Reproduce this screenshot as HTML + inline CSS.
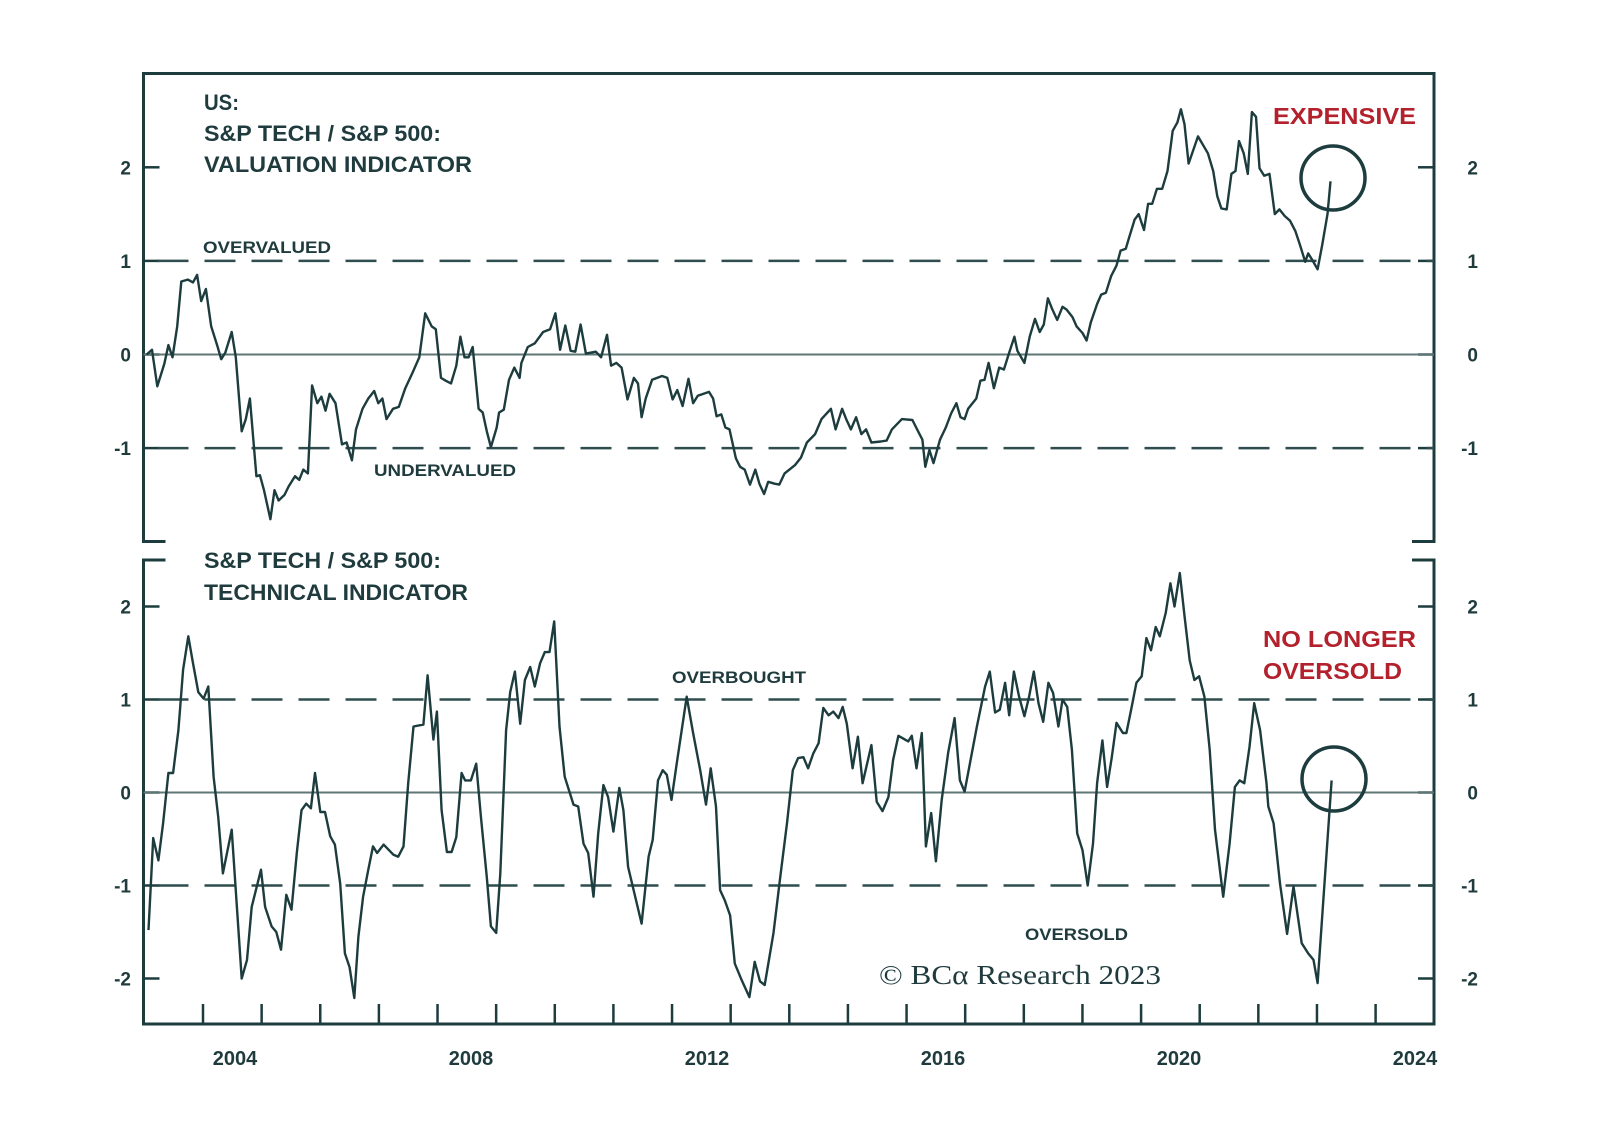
<!DOCTYPE html>
<html><head><meta charset="utf-8"><style>
html,body{margin:0;padding:0;background:#fff;}
svg{display:block;}
text{font-family:"Liberation Sans",sans-serif;fill:#1f3b3d;}
</style></head><body>
<svg id="chart" width="1600" height="1142" viewBox="0 0 1600 1142" xmlns="http://www.w3.org/2000/svg">
<g id="frame"></g>
<g id="grid"></g>
<g id="series"></g>
<g id="labels">
<text x="204" y="110" font-size="22" font-weight="bold" textLength="35" lengthAdjust="spacingAndGlyphs">US:</text>
<text x="204" y="141" font-size="22" font-weight="bold" textLength="237" lengthAdjust="spacingAndGlyphs">S&amp;P TECH / S&amp;P 500:</text>
<text x="204" y="172" font-size="22" font-weight="bold" textLength="268" lengthAdjust="spacingAndGlyphs">VALUATION INDICATOR</text>
<text x="203" y="253" font-size="17" font-weight="bold" textLength="128" lengthAdjust="spacingAndGlyphs">OVERVALUED</text>
<text x="374" y="476" font-size="17" font-weight="bold" textLength="142" lengthAdjust="spacingAndGlyphs">UNDERVALUED</text>
<text x="1273" y="124" font-size="23" font-weight="bold" style="fill:#b3222c" textLength="143" lengthAdjust="spacingAndGlyphs">EXPENSIVE</text>
<text x="204" y="568" font-size="22" font-weight="bold" textLength="237" lengthAdjust="spacingAndGlyphs">S&amp;P TECH / S&amp;P 500:</text>
<text x="204" y="600" font-size="22" font-weight="bold" textLength="264" lengthAdjust="spacingAndGlyphs">TECHNICAL INDICATOR</text>
<text x="672" y="683" font-size="17" font-weight="bold" textLength="134" lengthAdjust="spacingAndGlyphs">OVERBOUGHT</text>
<text x="1025" y="940" font-size="17" font-weight="bold" textLength="103" lengthAdjust="spacingAndGlyphs">OVERSOLD</text>
<text x="1263" y="647" font-size="23" font-weight="bold" style="fill:#b3222c" textLength="153" lengthAdjust="spacingAndGlyphs">NO LONGER</text>
<text x="1263" y="679" font-size="23" font-weight="bold" style="fill:#b3222c" textLength="139" lengthAdjust="spacingAndGlyphs">OVERSOLD</text>
<text x="879" y="984" font-size="27" style="font-family:'Liberation Serif',serif" textLength="282" lengthAdjust="spacingAndGlyphs">© BCα Research 2023</text>
</g>
<circle cx="1333" cy="178" r="32" fill="none" stroke="#1d3c3e" stroke-width="3.5"/>
<circle cx="1334" cy="779" r="32" fill="none" stroke="#1d3c3e" stroke-width="3.5"/>
</svg>
<script>
// ---- data ----
const valDates = [2003.04,2003.13,2003.22,2003.34,2003.41,2003.48,2003.56,2003.63,2003.74,2003.83,2003.90,2003.97,2004.05,2004.14,2004.24,2004.31,2004.38,2004.49,2004.56,2004.66,2004.73,2004.80,2004.91,2004.97,2005.04,2005.15,2005.22,2005.29,2005.39,2005.46,2005.57,2005.64,2005.71,2005.79,2005.86,2005.95,2006.02,2006.09,2006.16,2006.26,2006.37,2006.45,2006.54,2006.61,2006.72,2006.82,2006.92,2006.99,2007.06,2007.13,2007.24,2007.34,2007.45,2007.57,2007.69,2007.79,2007.90,2007.97,2008.06,2008.14,2008.23,2008.32,2008.39,2008.46,2008.53,2008.60,2008.70,2008.77,2008.84,2008.91,2009.01,2009.05,2009.13,2009.22,2009.31,2009.40,2009.43,2009.54,2009.66,2009.80,2009.92,2010.01,2010.09,2010.18,2010.27,2010.35,2010.44,2010.53,2010.70,2010.79,2010.89,2010.96,2011.05,2011.14,2011.24,2011.35,2011.42,2011.48,2011.55,2011.66,2011.83,2011.92,2012.01,2012.09,2012.18,2012.28,2012.36,2012.44,2012.63,2012.70,2012.76,2012.84,2012.91,2012.98,2013.09,2013.16,2013.24,2013.33,2013.42,2013.49,2013.57,2013.64,2013.75,2013.83,2013.92,2014.10,2014.20,2014.30,2014.44,2014.55,2014.71,2014.79,2014.90,2014.97,2015.05,2015.14,2015.23,2015.31,2015.40,2015.56,2015.66,2015.75,2015.92,2016.10,2016.18,2016.27,2016.32,2016.39,2016.46,2016.57,2016.67,2016.76,2016.85,2016.92,2016.99,2017.05,2017.19,2017.26,2017.33,2017.40,2017.49,2017.58,2017.66,2017.75,2017.84,2017.89,2018.01,2018.10,2018.19,2018.27,2018.34,2018.41,2018.48,2018.57,2018.66,2018.73,2018.83,2018.90,2019.00,2019.07,2019.14,2019.25,2019.32,2019.40,2019.49,2019.58,2019.65,2019.74,2019.80,2019.89,2019.96,2020.05,2020.12,2020.19,2020.27,2020.36,2020.45,2020.54,2020.62,2020.68,2020.74,2020.81,2020.97,2021.14,2021.23,2021.30,2021.37,2021.46,2021.54,2021.61,2021.67,2021.75,2021.82,2021.89,2021.96,2022.02,2022.10,2022.19,2022.28,2022.36,2022.45,2022.54,2022.63,2022.71,2022.80,2022.85,2022.92,2023.01,2023.09,2023.18,2023.23];
const valValues = [0.00,0.05,-0.34,-0.10,0.10,-0.03,0.30,0.78,0.80,0.77,0.85,0.57,0.70,0.30,0.10,-0.05,0.02,0.24,-0.03,-0.82,-0.69,-0.47,-1.30,-1.29,-1.45,-1.76,-1.45,-1.56,-1.50,-1.41,-1.30,-1.34,-1.23,-1.27,-0.33,-0.52,-0.45,-0.60,-0.42,-0.52,-0.96,-0.94,-1.13,-0.80,-0.58,-0.47,-0.39,-0.52,-0.47,-0.69,-0.58,-0.56,-0.36,-0.20,-0.03,0.44,0.30,0.27,-0.25,-0.28,-0.31,-0.12,0.19,-0.03,-0.03,0.08,-0.58,-0.62,-0.82,-0.99,-0.78,-0.62,-0.59,-0.27,-0.14,-0.25,-0.09,0.08,0.12,0.24,0.27,0.44,0.05,0.31,0.04,0.03,0.32,0.01,0.03,-0.03,0.21,-0.12,-0.09,-0.14,-0.48,-0.25,-0.31,-0.67,-0.47,-0.27,-0.23,-0.25,-0.48,-0.38,-0.55,-0.26,-0.52,-0.44,-0.40,-0.47,-0.66,-0.64,-0.78,-0.80,-1.11,-1.20,-1.23,-1.39,-1.23,-1.38,-1.49,-1.36,-1.38,-1.39,-1.27,-1.18,-1.10,-0.94,-0.85,-0.69,-0.58,-0.80,-0.58,-0.69,-0.80,-0.67,-0.85,-0.80,-0.94,-0.93,-0.92,-0.80,-0.69,-0.70,-0.80,-0.91,-1.20,-1.02,-1.16,-0.91,-0.78,-0.63,-0.52,-0.67,-0.69,-0.58,-0.47,-0.28,-0.27,-0.09,-0.36,-0.14,-0.16,0.02,0.19,0.04,-0.09,0.19,0.38,0.24,0.32,0.60,0.49,0.37,0.51,0.48,0.40,0.30,0.23,0.15,0.34,0.54,0.64,0.66,0.84,0.95,1.11,1.13,1.26,1.44,1.50,1.33,1.61,1.61,1.77,1.77,1.96,2.39,2.48,2.62,2.46,2.04,2.33,2.15,1.96,1.69,1.56,1.55,1.93,1.96,2.28,2.15,1.93,2.59,2.54,1.99,1.91,1.93,1.50,1.55,1.48,1.43,1.32,1.17,0.99,1.08,1.01,0.91,1.17,1.50,1.85];
const techDates = [2003.07,2003.15,2003.24,2003.32,2003.41,2003.49,2003.58,2003.66,2003.75,2003.83,2003.92,2004.01,2004.09,2004.18,2004.26,2004.34,2004.49,2004.66,2004.75,2004.83,2004.99,2005.06,2005.17,2005.25,2005.33,2005.42,2005.51,2005.60,2005.68,2005.76,2005.84,2005.91,2006.00,2006.08,2006.17,2006.25,2006.34,2006.42,2006.50,2006.58,2006.65,2006.73,2006.82,2006.90,2006.97,2007.08,2007.25,2007.33,2007.42,2007.50,2007.59,2007.76,2007.83,2007.93,2007.99,2008.07,2008.16,2008.24,2008.32,2008.41,2008.47,2008.57,2008.66,2008.74,2008.84,2008.91,2009.00,2009.07,2009.17,2009.24,2009.32,2009.41,2009.49,2009.58,2009.66,2009.75,2009.83,2009.91,2009.99,2010.08,2010.17,2010.32,2010.40,2010.49,2010.57,2010.66,2010.74,2010.83,2010.91,2011.00,2011.10,2011.17,2011.25,2011.48,2011.60,2011.67,2011.76,2011.84,2011.91,2011.99,2012.08,2012.25,2012.36,2012.48,2012.58,2012.66,2012.75,2012.82,2012.90,2012.99,2013.07,2013.19,2013.32,2013.41,2013.50,2013.58,2013.73,2013.84,2013.96,2014.06,2014.15,2014.24,2014.32,2014.41,2014.50,2014.58,2014.67,2014.75,2014.84,2014.91,2014.98,2015.08,2015.17,2015.25,2015.40,2015.49,2015.59,2015.69,2015.77,2015.86,2016.03,2016.09,2016.17,2016.26,2016.33,2016.42,2016.50,2016.60,2016.71,2016.82,2016.91,2016.99,2017.20,2017.34,2017.42,2017.51,2017.59,2017.68,2017.75,2017.83,2017.92,2018.01,2018.09,2018.17,2018.25,2018.33,2018.42,2018.50,2018.59,2018.66,2018.74,2018.82,2018.91,2019.00,2019.09,2019.18,2019.25,2019.34,2019.42,2019.50,2019.58,2019.69,2019.75,2019.84,2019.92,2020.01,2020.09,2020.17,2020.25,2020.32,2020.42,2020.50,2020.57,2020.66,2020.74,2020.83,2020.91,2020.99,2021.08,2021.17,2021.26,2021.40,2021.51,2021.60,2021.68,2021.76,2021.85,2021.93,2022.03,2022.14,2022.17,2022.26,2022.37,2022.49,2022.60,2022.74,2022.85,2022.94,2023.01,2023.25];
const techValues = [-1.48,-0.49,-0.73,-0.33,0.21,0.21,0.67,1.32,1.68,1.39,1.08,1.01,1.14,0.17,-0.26,-0.87,-0.40,-2.00,-1.80,-1.23,-0.83,-1.23,-1.44,-1.50,-1.69,-1.10,-1.26,-0.65,-0.19,-0.12,-0.17,0.21,-0.21,-0.21,-0.47,-0.56,-0.98,-1.73,-1.88,-2.21,-1.55,-1.12,-0.83,-0.58,-0.65,-0.56,-0.67,-0.69,-0.58,0.10,0.71,0.73,1.26,0.57,0.87,-0.19,-0.64,-0.64,-0.48,0.21,0.13,0.13,0.31,-0.26,-0.91,-1.44,-1.51,-0.87,0.67,1.08,1.30,0.74,1.21,1.35,1.14,1.39,1.51,1.51,1.84,0.71,0.17,-0.13,-0.15,-0.55,-0.65,-1.12,-0.44,0.08,-0.05,-0.42,0.05,-0.19,-0.80,-1.41,-0.69,-0.51,0.13,0.24,0.19,-0.08,0.31,1.03,0.64,0.24,-0.13,0.26,-0.15,-1.05,-1.16,-1.32,-1.84,-2.02,-2.20,-1.82,-2.03,-2.07,-1.51,-0.94,-0.33,0.24,0.37,0.38,0.26,0.42,0.53,0.91,0.83,0.87,0.80,0.92,0.74,0.26,0.60,0.10,0.51,-0.10,-0.20,-0.05,0.35,0.61,0.55,0.61,0.26,0.64,-0.58,-0.22,-0.74,-0.08,0.43,0.80,0.13,0.01,0.71,1.14,1.30,0.86,0.89,1.18,0.83,1.30,1.03,0.82,1.03,1.30,0.96,0.76,1.18,1.07,0.71,1.00,0.92,0.46,-0.44,-0.62,-1.00,-0.55,0.10,0.56,0.06,0.38,0.75,0.64,0.64,0.92,1.18,1.25,1.66,1.53,1.78,1.68,1.93,2.25,2.00,2.36,1.90,1.42,1.21,1.25,1.03,0.46,-0.40,-1.12,-0.55,0.06,0.13,0.10,0.49,0.96,0.67,0.10,-0.15,-0.33,-0.98,-1.52,-1.01,-1.62,-1.73,-1.80,-2.05,0.13];
const xTickYears = [2004,2005,2006,2007,2008,2009,2010,2011,2012,2013,2014,2015,2016,2017,2018,2019,2020,2021,2022,2023,2024];
const xLabelYears = [2004,2008,2012,2016,2020,2024];
const topTicks = [2,1,0,-1];
const botTicks = [2,1,0,-1,-2];
const topBands = [1,-1];
const botBands = [1,-1];

// ---- scales ----
const X0 = 143.5, X1 = 1434;
const xScale = t => 203 + (t - 2004) * 58.63;
const yTop = v => 354.5 - v * 93.6;
const yBot = v => 792.5 - v * 93.0;
const NS = "http://www.w3.org/2000/svg";
const C = "#1d3c3e";
function mk(tag, attrs, parent){
  const e = document.createElementNS(NS, tag);
  for (const k in attrs) e.setAttribute(k, attrs[k]);
  parent.appendChild(e);
  return e;
}
const frame = document.getElementById('frame');
const grid = document.getElementById('grid');
const series = document.getElementById('series');
const labels = document.getElementById('labels');

// frame: top panel
const topY0 = 73.5, topY1 = 541.5, botY0 = 560, botY1 = 1024;
let p = mk('path', {d:`M${X0+22},${topY1} H${X0} V${topY0} H${X1} V${topY1} H${X1-22}`, fill:'none', stroke:C, 'stroke-width':3}, frame);


p = mk('path', {d:`M${X0+22},${botY0} H${X0} V${botY1} H${X1} V${botY0} H${X1-22}`, fill:'none', stroke:C, 'stroke-width':3}, frame);



// x ticks
xTickYears.forEach(yr => {
  const x = xScale(yr);
  const t = mk('line', {x1:x, x2:x, y1:botY1, y2:botY1-20, stroke:C, 'stroke-width':2.5}, frame);
  
  
});
xLabelYears.forEach(yr => {
  const x = 235 + (yr - 2004) * 59.0;
  const t = mk('text', {x:x, y:1065, 'font-size':20, 'font-weight':'bold', 'text-anchor':'middle'}, labels);
  t.textContent = String(yr);
  
  
});

// y ticks + labels
function yAxis(ticks, ys, panel){
  ticks.forEach(v => {
    const y = ys(v);
    const lbl = String(v);
    let t = mk('line', {x1:X0, x2:X0+16, y1:y, y2:y, stroke:C, 'stroke-width':2.5}, frame);
    
    
    t = mk('line', {x1:X1-16, x2:X1, y1:y, y2:y, stroke:C, 'stroke-width':2.5}, frame);
    
    
    t = mk('text', {x:131, y:y+7, 'font-size':19, 'font-weight':'bold', 'text-anchor':'end'}, labels);
    t.textContent = lbl;
    
    
    t = mk('text', {x:1478, y:y+7, 'font-size':19, 'font-weight':'bold', 'text-anchor':'end'}, labels);
    t.textContent = lbl;
    
    
  });
}
yAxis(topTicks, yTop, 'top');
yAxis(botTicks, yBot, 'bottom');

// reference lines
function refLines(bands, ys, panel){
  let z = mk('line', {x1:X0, x2:X1, y1:ys(0), y2:ys(0), stroke:'#5f7677', 'stroke-width':2}, grid);
  
  
  bands.forEach(v => {
    const d = mk('line', {x1:X0+4, x2:X1, y1:ys(v), y2:ys(v), stroke:'#2f4d4f', 'stroke-width':2.5, 'stroke-dasharray':'31 16', 'stroke-dashoffset':'-10'}, grid);
    
    
  });
}
refLines(topBands, yTop, 'top');
refLines(botBands, yBot, 'bottom');

// series
function drawLine(dates, vals, ys, name){
  const d = dates.map((t,i) => (i ? 'L' : 'M') + xScale(t).toFixed(1) + ',' + ys(vals[i]).toFixed(1)).join(' ');
  const l = mk('path', {d:d, fill:'none', stroke:C, 'stroke-width':2.4, 'stroke-linejoin':'round'}, series);
  
  
}
drawLine(valDates, valValues, yTop, 'valuation-indicator-line');
drawLine(techDates, techValues, yBot, 'technical-indicator-line');
</script>
</body></html>
